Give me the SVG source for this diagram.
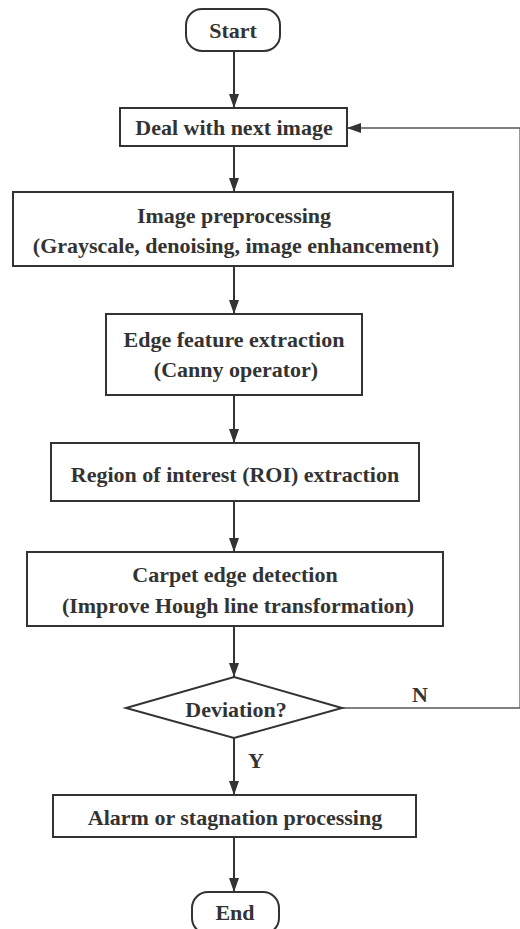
<svg xmlns="http://www.w3.org/2000/svg" width="520" height="929" viewBox="0 0 520 929">
<style>
.box{fill:#fff;stroke:#333;stroke-width:2}
.t{font-family:"Liberation Serif","Times New Roman",serif;font-weight:bold;font-size:22px;fill:#333;text-anchor:middle}
.c{fill:none;stroke:#333;stroke-width:2}
.fb{fill:none;stroke:#555;stroke-width:1.6}
</style>
<defs>
<marker id="ah" viewBox="0 0 14 10" refX="14" refY="5" markerWidth="14" markerHeight="10" markerUnits="userSpaceOnUse" orient="auto">
<path d="M0,0 L14,5 L0,10 z" fill="#333"/>
</marker>
</defs>
<rect x="0" y="0" width="520" height="929" fill="#fff"/>
<g id="connectors">
<line class="c" x1="234" y1="51" x2="234" y2="108" marker-end="url(#ah)"/>
<line class="c" x1="234" y1="146" x2="234" y2="192" marker-end="url(#ah)"/>
<line class="c" x1="234" y1="266" x2="234" y2="314" marker-end="url(#ah)"/>
<line class="c" x1="234" y1="395" x2="234" y2="443" marker-end="url(#ah)"/>
<line class="c" x1="234" y1="501" x2="234" y2="552" marker-end="url(#ah)"/>
<line class="c" x1="234" y1="626" x2="234" y2="677" marker-end="url(#ah)"/>
<line class="c" x1="234" y1="738" x2="234" y2="795" marker-end="url(#ah)"/>
<line class="c" x1="234" y1="837" x2="234" y2="892" marker-end="url(#ah)"/>
<path class="fb" d="M342,708 H520.2 V128 H347" marker-end="url(#ah)"/>
<text class="t" x="420" y="702">N</text>
<text class="t" x="256" y="768">Y</text>
</g>
<g id="start">
<rect class="box" x="186" y="9" width="94" height="42" rx="16"/>
<text class="t" x="233" y="38">Start</text>
</g>
<g id="deal">
<rect class="box" x="120" y="108" width="227" height="38"/>
<text class="t" x="234" y="135">Deal with next image</text>
</g>
<g id="preprocess">
<rect class="box" x="13" y="192" width="440" height="74"/>
<text class="t" x="234" y="223">Image preprocessing</text>
<text class="t" x="236" y="253">(Grayscale, denoising, image enhancement)</text>
</g>
<g id="edge">
<rect class="box" x="106" y="314" width="256" height="81"/>
<text class="t" x="234" y="347">Edge feature extraction</text>
<text class="t" x="236" y="377">(Canny operator)</text>
</g>
<g id="roi">
<rect class="box" x="51" y="443" width="368" height="58"/>
<text class="t" x="235" y="482">Region of interest (ROI) extraction</text>
</g>
<g id="carpet">
<rect class="box" x="27" y="552" width="416" height="74"/>
<text class="t" x="235" y="582">Carpet edge detection</text>
<text class="t" x="238" y="613">(Improve Hough line transformation)</text>
</g>
<g id="deviation">
<polygon class="box" points="234,677 342,708 234,738 126,708"/>
<text class="t" x="236" y="717">Deviation?</text>
</g>
<g id="alarm">
<rect class="box" x="53" y="795" width="363" height="42"/>
<text class="t" x="235" y="825">Alarm or stagnation processing</text>
</g>
<g id="end">
<rect class="box" x="192" y="892" width="87" height="42" rx="16"/>
<text class="t" x="235" y="920">End</text>
</g>
</svg>
